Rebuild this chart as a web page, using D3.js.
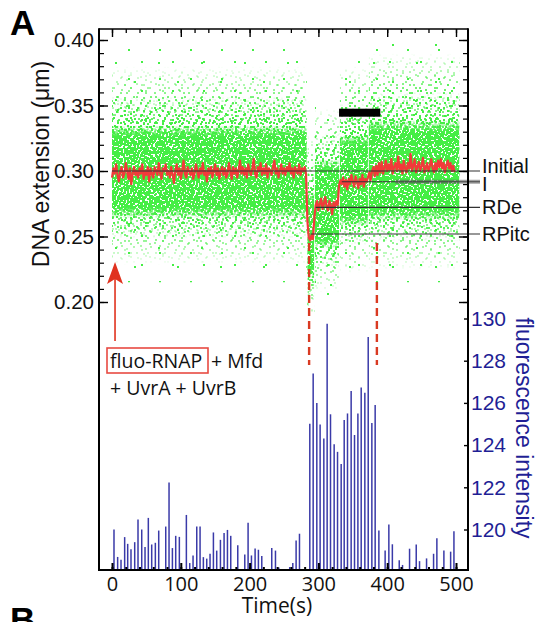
<!DOCTYPE html>
<html><head><meta charset="utf-8">
<script src="https://cdn.jsdelivr.net/npm/d3@7"></script>
<style>
html,body{margin:0;padding:0;background:#fff;}
svg{display:block;}
</style></head>
<body>
<svg id="chart" width="539" height="622"></svg>
<script>
// ---------------- DATA ----------------
// DNA extension (µm), red filtered trace, sampled every 2 s from t = 0
const traceStart = 0, traceStep = 2;
const traceValues = [
 0.295,0.302,0.298,0.305,0.297,0.292,0.300,0.303,0.295,0.298,0.306,
 0.300,0.294,0.302,0.290,0.298,0.303,0.297,0.300,0.295,0.302,
 0.298,0.305,0.294,0.300,0.297,0.303,0.292,0.302,0.298,0.295,
 0.303,0.300,0.297,0.306,0.298,0.294,0.302,0.300,0.305,0.297,
 0.300,0.295,0.303,0.298,0.291,0.300,0.305,0.297,0.302,0.294,
 0.300,0.308,0.298,0.295,0.303,0.300,0.297,0.302,0.294,0.298,
 0.305,0.300,0.295,0.302,0.298,0.306,0.297,0.300,0.292,0.302,
 0.298,0.303,0.295,0.300,0.305,0.297,0.302,0.294,0.300,0.303,
 0.297,0.302,0.295,0.298,0.306,0.300,0.294,0.303,0.298,0.302,
 0.295,0.300,0.308,0.298,0.303,0.297,0.302,0.295,0.305,0.300,
 0.297,0.302,0.309,0.298,0.295,0.303,0.300,0.306,0.297,0.302,
 0.298,0.305,0.295,0.302,0.300,0.297,0.303,0.308,0.298,0.302,
 0.295,0.300,0.305,0.298,0.302,0.297,0.303,0.300,0.306,0.298,
 0.302,0.295,0.303,0.300,0.298,0.305,0.297,0.302,0.300,0.303,0.298,
 0.262,0.249,0.247,0.251,0.248,0.263,0.274,
 0.277,0.270,0.275,0.279,0.271,0.275,0.280,0.273,0.270,0.277,0.274,0.267,0.276,0.272,0.277,0.274,
 0.289,0.293,
 0.290,0.295,0.288,0.293,0.286,0.294,0.290,0.297,0.292,0.288,0.296,0.292,0.287,0.294,0.290,0.297,0.288,0.294,0.292,
 0.295,0.299,0.293,0.300,0.303,0.296,0.304,0.297,0.306,0.299,0.307,0.298,0.302,0.308,
 0.300,0.305,0.301,0.309,0.298,0.303,0.306,0.300,0.311,0.301,0.305,0.298,0.308,0.302,0.299,0.306,0.302,0.313,0.300,0.304,
 0.309,0.299,0.303,0.307,0.300,0.304,0.310,0.299,0.302,0.306,0.300,0.304,0.309,0.302,0.299,0.306,0.301,0.308,0.303,0.309,
 0.302,0.306,0.299,0.304,0.308,0.302,0.306,0.300,0.304,0.299
];

// Raw-data cloud (green), read as bands per time segment (µm)
const cloudStart = [0,   284,  295,  331,  373];
const cloudEnd   = [283, 294,  330,  372,  505];
const outerLo    = [0.215,0.190,0.205,0.220,0.215];
const outerHi    = [0.395,0.330,0.350,0.385,0.400];
const haloLo     = [0.228,0.188,0.207,0.222,0.224];
const haloHi     = [0.380,0.328,0.348,0.380,0.390];
const midLo      = [0.248,0.200,0.225,0.243,0.246];
const midHi      = [0.357,0.307,0.329,0.352,0.361];
const coreLo     = [0.264,0.218,0.241,0.258,0.262];
const coreHi     = [0.335,0.284,0.309,0.328,0.339];

// Fluorescence intensity bars: time (s) and value
const barTimes = [2.9,8.2,13.1,18.4,22.8,27.6,33,37.8,43.2,48,52.8,57.7,63,67.9,78.1,82.9,87.8,92.6,97.9,108.1,
 113,117.8,123.2,128,132.8,137.7,142.5,147.4,152.2,157.6,162.9,167.8,172.6,182.8,193,197.8,202.7,208,212.8,217.7,
 232.2,237.6,242.4,258.3,262.8,267.6,272.5,287.5,292.4,297.7,302.5,307.9,312.7,317.6,322.9,327.8,333.1,337.5,342.3,
 347.6,352.5,357.4,362.2,367.5,372.4,377.7,382.5,387.9,397,402.4,407.5,417.5,422.3,432.5,442.2,447,457.2,467.4,
 472.2,482.4,492.2,497];
const barValues = [120.0,118.7,118.57,119.64,119.32,119.06,119.4,120.47,120.0,119.17,120.55,119.29,119.37,119.95,120.14,122.23,119.12,119.7,119.65,120.69,
 118.41,118.77,120.14,120.14,118.69,118.62,118.85,119.86,119.0,119.51,119.83,119.98,119.7,119.25,118.82,120.32,118.77,119.1,119.04,118.74,
 119.12,119.0,118.2,118.22,118.41,119.48,119.8,125.01,127.39,126.0,124.98,124.31,129.75,125.46,124.04,123.68,123.1,125.19,125.5,
 126.56,124.48,125.5,126.73,126.48,129.12,125.05,125.9,119.95,119.0,120.24,119.3,118.54,118.32,119.09,119.29,118.5,118.63,118.85,
 119.58,119.0,118.95,119.92];

// Reference states (µm): label, level, start time
const stateLabels = ["Initial","I","RDe","RPitc"];
const stateLevels = [0.300, 0.2918, 0.2723, 0.2519];
const stateStart  = [0, 334, 296, 289];

// ticks
const xTicks = [0,100,200,300,400,500];
const xMinorTicks = d3.range(0, 501, 20);
const yTicks = [0.20,0.25,0.30,0.35,0.40];
const yMinorTicks = d3.range(20, 41).map(d => d/100);
const fTicks = [120,122,124,126,128,130];

// annotation anchors (data units)
const arrowTime = 4.4;
const dashTimes = [286.5, 385];
const barMarkTimes = [330, 390];
const barMarkLevel = 0.3445;

// ---------------- LAYOUT ----------------
const L = 99, R = 468, T = 29, B = 570;
const svg = d3.select("#chart");
const x  = d3.scaleLinear().domain([0,500]).range([112,456]);
const yL = d3.scaleLinear().domain([0.20,0.40]).range([302,40]);
const yF = d3.scaleLinear().domain([120,130]).range([529.5,318.5]);

const SANS = "'Liberation Sans', Arial, sans-serif";
const SEG  = "'Open Sans', 'Noto Sans', sans-serif";
const BLUE = "#1f1f95";
const GREEN = "#45ee45";

// dot textures for the point cloud
const defs = svg.append("defs");
function pattern(id, w, h, dots){
  const p = defs.append("pattern").attr("id", id).attr("patternUnits","userSpaceOnUse")
    .attr("width", w).attr("height", h);
  p.selectAll("rect").data(dots).join("rect")
    .attr("x", d=>d[0]).attr("y", d=>d[1]).attr("width",2).attr("height",2)
    .attr("fill", GREEN).attr("shape-rendering","crispEdges");
}
pattern("pO1", 43, 37, [[5,7],[29,25]]);
pattern("pO2", 31, 29, [[17,3],[4,20]]);
pattern("pA", 17, 15, [[1,2],[9,0],[14,6],[5,9],[11,12]]);
pattern("pB", 19, 13, [[3,5],[12,1],[16,9],[7,11],[10,6]]);
pattern("pC", 13, 11, [[0,1],[6,0],[10,4],[3,5],[8,8],[1,9]]);
pattern("pF", 23, 17, [[2,1],[9,4],[17,2],[13,9],[20,12],[5,13],[0,7],[15,15],[11,0]]);
pattern("pD", 11, 10, [[0,0],[3,1],[6,0],[9,2],[1,3],[5,4],[8,5],[2,6],[4,8],[7,7],[0,8],[9,8],[6,2]]);
pattern("pE", 7, 9, [[1,0],[4,3],[0,5],[5,7],[2,7]]);
pattern("pG", 9, 8, [[2,1],[6,3],[0,5],[4,6],[7,0]]);

// soft vertical fades for band edges
function fade(id, edge){
  const g = defs.append("linearGradient").attr("id", id+"g").attr("x1",0).attr("y1",0).attr("x2",0).attr("y2",1);
  g.append("stop").attr("offset",0).attr("stop-color","#000");
  g.append("stop").attr("offset",edge).attr("stop-color","#fff");
  g.append("stop").attr("offset",1-edge).attr("stop-color","#fff");
  g.append("stop").attr("offset",1).attr("stop-color","#000");
  defs.append("mask").attr("id", id).attr("maskContentUnits","objectBoundingBox")
    .append("rect").attr("width",1).attr("height",1).attr("fill",`url(#${id}g)`);
}
fade("fHalo", 0.22);
fade("fMid", 0.2);
fade("fCore", 0.12);

// green cloud
const area = d3.area().x(d=>x(d.t)).y0(d=>yL(d.lo)).y1(d=>yL(d.hi));
const cloudG = svg.append("g");
[[["pO1","pO2"],outerLo,outerHi,null],[["pA","pB"],haloLo,haloHi,"fHalo"],[["pC","pF"],midLo,midHi,"fMid"],[["pD","pE","pG"],coreLo,coreHi,"fCore"]]
.forEach(([pids,lo,hi,m])=>{
  pids.forEach(pid=>{
    cloudStart.forEach((s,i)=>{
      const p = cloudG.append("path")
        .attr("d", area([{t:s,lo:lo[i],hi:hi[i]},{t:cloudEnd[i],lo:lo[i],hi:hi[i]}]))
        .attr("fill", `url(#${pid})`);
      if (m) p.attr("mask", `url(#${m})`);
    });
  });
});

// fluorescence bars
svg.append("g").selectAll("line").data(barTimes).join("line")
  .attr("x1", d=>x(d)).attr("x2", d=>x(d))
  .attr("y1", B).attr("y2", (d,i)=>yF(barValues[i]))
  .attr("stroke", "#3a3aa8").attr("stroke-width", 1.5);

// red trace
const trace = traceValues.map((v,i)=>({t: traceStart + i*traceStep, v}));
svg.append("path").datum(trace)
  .attr("d", d3.line().x(d=>x(d.t)).y(d=>yL(d.v)))
  .attr("fill","none").attr("stroke","#f23a3a").attr("stroke-width",2.2)
  .attr("stroke-linejoin","round");

// state reference lines
const lineEnd = 480;
stateLevels.forEach((lv,i)=>{
  svg.append("line").attr("x1", x(stateStart[i])).attr("x2", lineEnd)
    .attr("y1", yL(lv)).attr("y2", yL(lv))
    .attr("stroke", "#333").attr("stroke-width", 1.2);
});
// thicker grey pointer for I
svg.append("line").attr("x1", x(412)).attr("x2", lineEnd)
  .attr("y1", yL(stateLevels[1])).attr("y2", yL(stateLevels[1]))
  .attr("stroke", "#555").attr("stroke-opacity",0.55).attr("stroke-width", 4);

const labelDy = [2, 9, 7, 7];
svg.append("g").selectAll("text").data(stateLabels).join("text")
  .attr("x", 482).attr("y", (d,i)=>yL(stateLevels[i]) + labelDy[i])
  .attr("font-family", SANS).attr("font-size", 20).attr("fill","#111")
  .text(d=>d);

// black bar marker
svg.append("rect").attr("x", x(barMarkTimes[0])).attr("width", x(barMarkTimes[1]) - x(barMarkTimes[0]))
  .attr("y", yL(barMarkLevel) - 4).attr("height", 8).attr("fill", "#000");

// red dashed lines
dashTimes.forEach(t=>{
  svg.append("line").attr("x1", x(t)).attr("x2", x(t)).attr("y1", 243).attr("y2", 365)
    .attr("stroke","#d93a22").attr("stroke-width",2.4).attr("stroke-dasharray","8,5");
});

// red arrow
const ax = x(arrowTime);
svg.append("line").attr("x1", ax).attr("x2", ax).attr("y1", 341).attr("y2", 278)
  .attr("stroke", "#e0321e").attr("stroke-width", 1.6);
svg.append("path").attr("d", `M${ax},262 L${ax-8},284 L${ax},279 L${ax+8},284 Z`).attr("fill","#e0321e");

// annotation text
svg.append("rect").attr("x",107).attr("y",348).attr("width",101).attr("height",25)
  .attr("fill","none").attr("stroke","#e84a42").attr("stroke-width",1.6);
svg.append("text").attr("x",110).attr("y",368).attr("font-family",SEG).attr("font-size",19.5).attr("fill","#111")
  .text("fluo-RNAP");
svg.append("text").attr("x",211).attr("y",368).attr("font-family",SEG).attr("font-size",19.5).attr("fill","#111")
  .text("+ Mfd");
svg.append("text").attr("x",110).attr("y",395).attr("font-family",SEG).attr("font-size",19.5).attr("fill","#111")
  .text("+ UvrA + UvrB");

// ---------------- AXES ----------------
function clean(g){ g.select(".domain").remove(); }
// left
svg.append("g").attr("transform",`translate(${L},0)`)
  .call(d3.axisLeft(yL).tickValues(yMinorTicks).tickSize(-5).tickFormat("")).call(clean)
  .selectAll("line").attr("stroke","#000").attr("stroke-width",1.2);
const la = svg.append("g").attr("transform",`translate(${L},0)`)
  .call(d3.axisLeft(yL).tickValues(yTicks).tickSize(-9).tickPadding(5).tickFormat(d3.format(".2f"))).call(clean);
la.selectAll("line").attr("stroke","#000").attr("stroke-width",1.4);
la.selectAll("text").attr("font-family",SANS).attr("font-size",20.5).attr("fill","#111");
// right (mirrored)
svg.append("g").attr("transform",`translate(${R},0)`)
  .call(d3.axisRight(yL).tickValues(yMinorTicks).tickSize(-5).tickFormat("")).call(clean)
  .selectAll("line").attr("stroke","#000").attr("stroke-width",1.2);
svg.append("g").attr("transform",`translate(${R},0)`)
  .call(d3.axisRight(yL).tickValues(yTicks).tickSize(-9).tickFormat("")).call(clean)
  .selectAll("line").attr("stroke","#000").attr("stroke-width",1.4);
// right fluorescence
const fa = svg.append("g").attr("transform",`translate(${R},0)`)
  .call(d3.axisRight(yF).tickValues(fTicks).tickSize(-4).tickPadding(3).tickFormat(d3.format("d"))).call(clean);
fa.selectAll("line").attr("stroke","#000").attr("stroke-width",1.4);
fa.selectAll("text").attr("font-family",SANS).attr("font-size",21).attr("fill",BLUE);
// top
svg.append("g").attr("transform",`translate(0,${T})`)
  .call(d3.axisTop(x).tickValues(xMinorTicks).tickSize(-4).tickFormat("")).call(clean)
  .selectAll("line").attr("stroke","#000").attr("stroke-width",1.3);
svg.append("g").attr("transform",`translate(0,${T})`)
  .call(d3.axisTop(x).tickValues(xTicks).tickSize(-8).tickFormat("")).call(clean)
  .selectAll("line").attr("stroke","#000").attr("stroke-width",1.4);
// bottom
svg.append("g").attr("transform",`translate(0,${B})`)
  .call(d3.axisBottom(x).tickValues(xMinorTicks).tickSize(-3).tickFormat("")).call(clean)
  .selectAll("line").attr("stroke","#000").attr("stroke-width",2);
const ba = svg.append("g").attr("transform",`translate(0,${B})`)
  .call(d3.axisBottom(x).tickValues(xTicks).tickSize(-7).tickPadding(7)).call(clean);
ba.selectAll("line").attr("stroke","#000").attr("stroke-width",2);
ba.selectAll("text").attr("font-family",SEG).attr("font-size",20).attr("fill","#111");

// frame
svg.append("path").attr("d",`M${L},${T}H${R}`).attr("stroke","#000").attr("stroke-width",1.5);
svg.append("path").attr("d",`M${L},${T-0.75}V${B+1}`).attr("stroke","#000").attr("stroke-width",2);
svg.append("path").attr("d",`M${R},${T-0.75}V${B+1}`).attr("stroke","#000").attr("stroke-width",2);
svg.append("path").attr("d",`M${L-1},${B}H${R+1}`).attr("stroke","#000").attr("stroke-width",2);

// axis titles
svg.append("text").attr("transform","translate(49,164) rotate(-90)").attr("text-anchor","middle")
  .attr("font-family",SANS).attr("font-size",23).attr("fill","#111").text("DNA extension (\u03BCm)");
svg.append("text").attr("transform","translate(516,428) rotate(90)").attr("text-anchor","middle")
  .attr("font-family",SANS).attr("font-size",23).attr("fill",BLUE).text("fluorescence intensity");
svg.append("text").attr("x",277).attr("y",613).attr("text-anchor","middle")
  .attr("font-family",SEG).attr("font-size",21).attr("fill","#111").text("Time(s)");

// panel letters
svg.append("text").attr("x",10).attr("y",35).attr("font-family",SANS).attr("font-weight","bold")
  .attr("font-size",35).attr("fill","#000").text("A");
svg.append("text").attr("x",10).attr("y",632).attr("font-family",SANS).attr("font-weight","bold")
  .attr("font-size",35).attr("fill","#000").text("B");
</script>
</body></html>
